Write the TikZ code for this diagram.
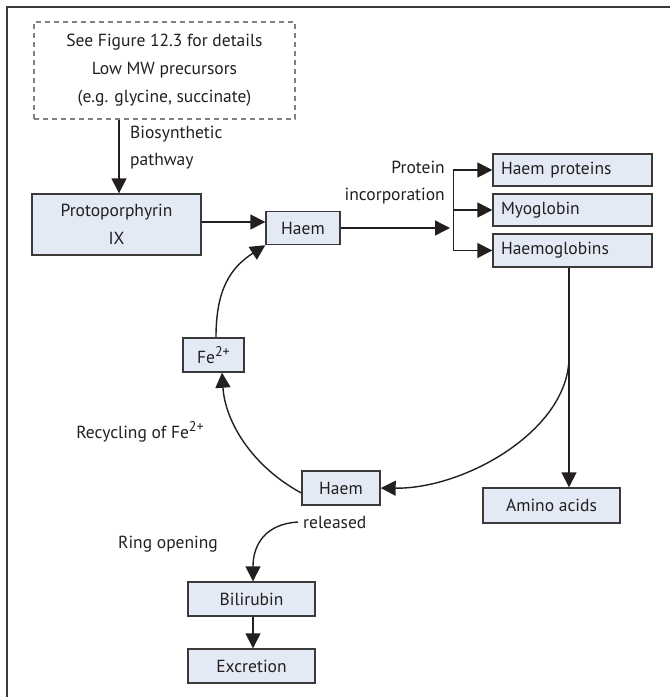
\documentclass[tikz,border=0pt]{standalone}
\usepackage{fontspec}
\setmainfont{PT Sans}
\usetikzlibrary{arrows.meta}
\definecolor{boxfill}{HTML}{E4EAF5}
\definecolor{boxline}{HTML}{3A3A3A}
\definecolor{txt}{HTML}{231F20}
\newcommand{\chg}{\raisebox{0.42em}{\fontsize{14}{14}\selectfont 2+}}
\tikzset{
  box/.style={draw=boxline, fill=boxfill, line width=1.4pt, inner sep=0pt, align=center, text=txt, font=\fontsize{17.5}{28}\selectfont},
  lbox/.style={box, align=left, text width=#1},
  dbox/.style={draw=gray, dashed, dash pattern=on 5pt off 4pt, line width=1.2pt, inner sep=0pt, align=center, text=txt, font=\fontsize{17.5}{28}\selectfont},
  lab/.style={inner sep=0pt, text=txt, font=\fontsize{17.5}{27}\selectfont},
  conn/.style={draw=txt, line width=1.4pt},
  arr/.style={conn, -{Triangle[length=15pt,width=15pt]}},
}
\begin{document}
\begin{tikzpicture}[x=1pt,y=-1pt]
\useasboundingbox (0,0) rectangle (670,697);
% frame
\draw[draw=boxline, line width=2pt] (7,697) -- (7,7) -- (670,7);

% nodes
\node[dbox, minimum width=261pt, minimum height=97pt] (pre) at (164.5,70.5)
  {See Figure 12.3 for details\\Low MW precursors\\(e.g. glycine, succinate)};
\node[box, minimum width=169pt, minimum height=61pt] (pp) at (116.5,224.5) {Protoporphyrin\\IX};
\node[box, minimum width=74pt, minimum height=33pt] (h1) at (303,228) {Haem};
\node[lbox=143pt, minimum width=159pt, minimum height=32pt] (hp) at (572.5,170) {Haem proteins};
\node[lbox=143pt, minimum width=159pt, minimum height=32pt] (my) at (572.5,210) {Myoglobin};
\node[lbox=143pt, minimum width=159pt, minimum height=33pt] (hg) at (572.5,250.5) {Haemoglobins};
\node[box, minimum width=137pt, minimum height=35pt] (aa) at (551.5,505.5) {Amino acids};
\node[box, minimum width=61pt, minimum height=34pt] (fe) at (213.5,355) {Fe\chg};
\node[box, minimum width=78pt, minimum height=34pt] (hr) at (341,488) {Haem};
\node[box, minimum width=127pt, minimum height=34pt] (bi) at (251.5,599) {Bilirubin};
\node[box, minimum width=127pt, minimum height=34pt] (ex) at (251.5,666) {Excretion};

% labels
\node[lab, align=left, anchor=north west] (bio) at (130,126) {Biosynthetic\\pathway};
\node[lab, align=right, anchor=east] (pin) at (445,183) {Protein\\incorporation};
\node[lab] (rec) at (140,432) {Recycling of Fe\chg};
\node[lab, anchor=west] (rel) at (303,522) {released};
\node[lab] (ring) at (168,544) {Ring opening};

% connectors
\draw[arr] (pre.south -| 119,0) -- (pp.north -| 119,0);
\draw[arr] (pp.east |- 0,222) -- (h1.west |- 0,222);
\coordinate (brin) at (450,228);
\draw[arr] (h1.east) -- (brin);
\draw[conn] ([xshift=-39pt]hp.west) -- ([xshift=-39pt]hg.west);
\foreach \n in {hp,my,hg} \draw[arr] ([xshift=-39pt]\n.west) -- (\n.west);
\coordinate (vx) at (569,0);
\coordinate (sp) at (569,357);
\draw[arr] (hg.south -| vx) -- (aa.north -| vx);
\draw[arr] (sp) .. controls (569,430) and (465,489) .. (hr.east);
\draw[arr] ([yshift=-5pt]hr.west) .. controls (250,465) and (225,420) .. ([xshift=8.5pt]fe.south);
\draw[arr] ([xshift=2.5pt]fe.north) .. controls (216,290) and (230,268) .. (h1.south west);
\draw[arr] ([xshift=-5pt]rel.west) .. controls (265,524) and (253,545) .. (bi.north -| 253,0);
\draw[arr] (bi.south -| 253,0) -- (ex.north -| 253,0);
\end{tikzpicture}
\end{document}
